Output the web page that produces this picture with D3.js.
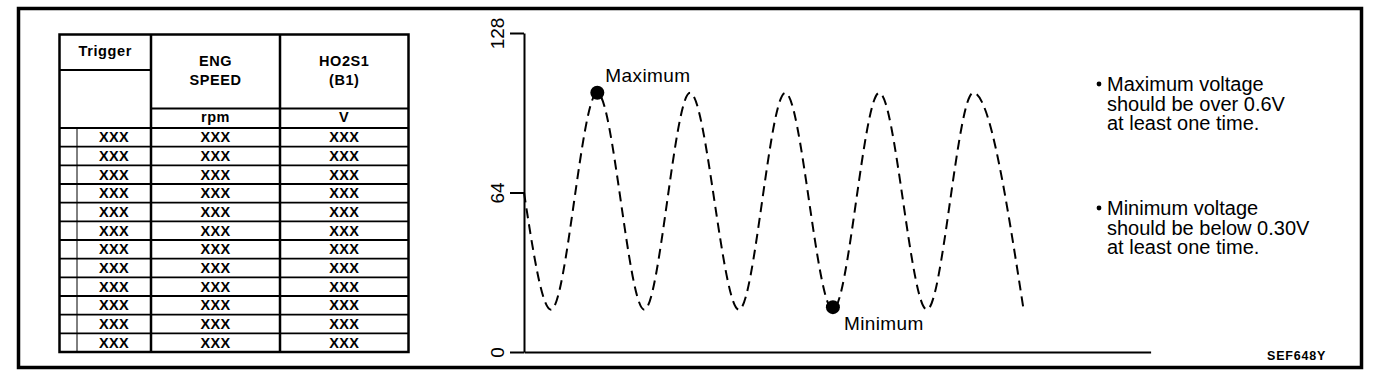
<!DOCTYPE html>
<html>
<head>
<meta charset="utf-8">
<script src="https://cdn.jsdelivr.net/npm/d3@7"></script>
<style>
  body { margin: 0; background: #fff; }
  svg { display: block; font-family: "Liberation Sans", Arial, sans-serif; }
</style>
</head>
<body>
<div id="chart"></div>
<script>
// table content
var headers = [["Trigger"], ["ENG", "SPEED"], ["HO2S1", "(B1)"]];
var units = ["", "rpm", "V"];
var rowValues = [
  ["XXX", "XXX", "XXX"], ["XXX", "XXX", "XXX"], ["XXX", "XXX", "XXX"],
  ["XXX", "XXX", "XXX"], ["XXX", "XXX", "XXX"], ["XXX", "XXX", "XXX"],
  ["XXX", "XXX", "XXX"], ["XXX", "XXX", "XXX"], ["XXX", "XXX", "XXX"],
  ["XXX", "XXX", "XXX"], ["XXX", "XXX", "XXX"], ["XXX", "XXX", "XXX"]
];

// waveform (time, sensor value 0-128)
var waveTime  = [0, 0.43, 1.17, 1.92, 2.65, 3.43, 4.17, 4.93, 5.67, 6.43, 7.17, 7.97];
var waveValue = [64, 17, 104, 17, 104, 17, 104, 17, 104, 17, 104, 17.5];
var yTicks = [0, 64, 128];
var maxPoint = { t: 1.17, v: 104, label: "Maximum" };
var minPoint = { t: 4.93, v: 18, label: "Minimum" };

var note1 = ["Maximum voltage", "should be over 0.6V", "at least one time."];
var note2 = ["Minimum voltage", "should be below 0.30V", "at least one time."];
var figCode = "SEF648Y";

var W = 1392, H = 376;
var svg = d3.select("#chart").append("svg")
  .attr("width", W)
  .attr("height", H);

// outer frame
svg.append("rect")
  .attr("x", 18.5).attr("y", 8.5)
  .attr("width", 1343).attr("height", 359)
  .attr("fill", "none")
  .attr("stroke", "#000")
  .attr("stroke-width", 3.5);

// ---- table ----
var colX = [59.5, 151, 280, 408.5];
var tTop = 34.5, trigBottom = 70, unitTop = 108.5, dataTop = 128;
var rowH = (352 - dataTop) / rowValues.length;
var tbl = svg.append("g");

function hline(x1, x2, y, w) {
  tbl.append("line").attr("x1", x1).attr("x2", x2).attr("y1", y).attr("y2", y)
    .attr("stroke", "#000").attr("stroke-width", w);
}
function vline(x, y1, y2, w) {
  tbl.append("line").attr("x1", x).attr("x2", x).attr("y1", y1).attr("y2", y2)
    .attr("stroke", "#000").attr("stroke-width", w);
}

tbl.append("rect")
  .attr("x", colX[0]).attr("y", tTop)
  .attr("width", colX[3] - colX[0]).attr("height", 352 - tTop)
  .attr("fill", "none").attr("stroke", "#000").attr("stroke-width", 2.5);
vline(colX[1], tTop, 352, 2.5);
vline(colX[2], tTop, 352, 2.5);
hline(colX[0], colX[1], trigBottom, 2);
hline(colX[1], colX[3], unitTop, 2);
hline(colX[0], colX[3], dataTop, 2);
vline(77, dataTop, 352, 1);
d3.range(1, rowValues.length).forEach(function (i) {
  hline(colX[0], colX[3], dataTop + i * rowH, 1.8);
});

var colCenter = [(colX[0] + colX[1]) / 2, (colX[1] + colX[2]) / 2, (colX[2] + colX[3]) / 2];
headers.forEach(function (lines, i) {
  var y0 = i === 0 ? 56 : 66;
  lines.forEach(function (s, j) {
    tbl.append("text")
      .attr("x", colCenter[i]).attr("y", y0 + j * 18.5)
      .attr("text-anchor", "middle")
      .attr("font-size", 14.5).attr("font-weight", "bold")
      .attr("letter-spacing", 0.6)
      .text(s);
  });
});
units.forEach(function (s, i) {
  tbl.append("text")
    .attr("x", colCenter[i]).attr("y", 122)
    .attr("text-anchor", "middle")
    .attr("font-size", 14.5).attr("font-weight", "bold")
    .attr("letter-spacing", 0.6)
    .text(s);
});
var dataX = [114, colCenter[1], colCenter[2]];
rowValues.forEach(function (row, r) {
  row.forEach(function (s, c) {
    tbl.append("text")
      .attr("x", dataX[c]).attr("y", dataTop + r * rowH + rowH / 2 + 5)
      .attr("text-anchor", "middle")
      .attr("font-size", 14.5).attr("font-weight", "bold")
      .attr("letter-spacing", 0.3)
      .text(s);
  });
});

// ---- waveform chart ----
var x = d3.scaleLinear().domain([0, 10]).range([524, 1150.6]);
var y = d3.scaleLinear().domain([0, 128]).range([352, 33]);

var yAxis = svg.append("g")
  .attr("transform", "translate(" + x(0) + ",0)")
  .call(d3.axisLeft(y).tickValues(yTicks).tickSize(14).tickSizeOuter(0));
yAxis.select(".domain").attr("stroke-width", 2);
yAxis.selectAll(".tick line").attr("stroke-width", 2);
yAxis.selectAll(".tick text")
  .attr("transform", "translate(-27,0) rotate(-90)")
  .attr("x", 0).attr("y", 0).attr("dy", "0.35em")
  .attr("text-anchor", "middle")
  .attr("font-family", "'Liberation Sans', Arial, sans-serif")
  .attr("font-size", 19);

var xAxis = svg.append("g")
  .attr("transform", "translate(0," + y(0) + ")")
  .call(d3.axisBottom(x).tickValues([]).tickSizeOuter(0));
xAxis.select(".domain").attr("stroke-width", 2);

var wave = waveTime.map(function (t, i) { return [t, waveValue[i]]; });
var line = d3.line()
  .x(function (d) { return x(d[0]); })
  .y(function (d) { return y(d[1]); })
  .curve(d3.curveMonotoneX);

svg.append("path")
  .datum(wave)
  .attr("d", line)
  .attr("fill", "none")
  .attr("stroke", "#000")
  .attr("stroke-width", 2)
  .attr("stroke-dasharray", "10,6");

[maxPoint, minPoint].forEach(function (p) {
  svg.append("circle")
    .attr("cx", x(p.t)).attr("cy", y(p.v))
    .attr("r", 7).attr("fill", "#000");
});
svg.append("text")
  .attr("x", x(maxPoint.t) + 8).attr("y", y(maxPoint.v) - 11)
  .attr("font-size", 19).attr("letter-spacing", 0.4)
  .text(maxPoint.label);
svg.append("text")
  .attr("x", x(minPoint.t) + 11).attr("y", y(minPoint.v) + 23)
  .attr("font-size", 19).attr("letter-spacing", 0.4)
  .text(minPoint.label);

// ---- notes ----
function note(lines, y0) {
  svg.append("circle").attr("cx", 1099).attr("cy", y0 - 7).attr("r", 2.4).attr("fill", "#000");
  lines.forEach(function (s, i) {
    svg.append("text")
      .attr("x", 1107).attr("y", y0 + i * 19.5)
      .attr("font-size", 20)
      .text(s);
  });
}
note(note1, 91);
note(note2, 215);

svg.append("text")
  .attr("x", 1267).attr("y", 360)
  .attr("font-size", 12.5).attr("font-weight", "bold")
  .attr("letter-spacing", 0.8)
  .text(figCode);
</script>
</body>
</html>
